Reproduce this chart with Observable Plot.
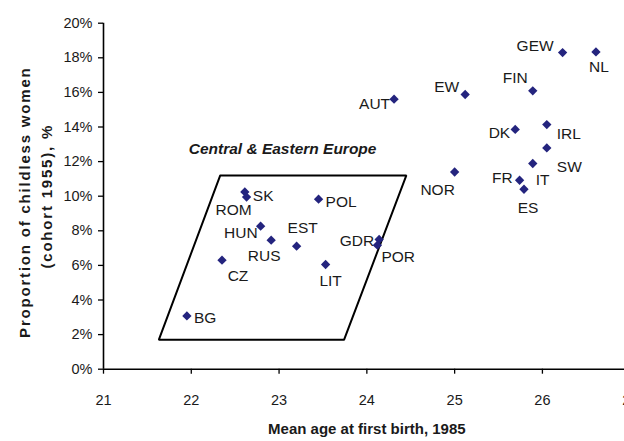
<!DOCTYPE html>
<html><head><meta charset="utf-8">
<script src="https://cdn.jsdelivr.net/npm/d3@7"></script>
<script src="https://cdn.jsdelivr.net/npm/@observablehq/plot@0.6"></script>
<style>html,body{margin:0;padding:0;overflow:hidden;background:#fff} svg{max-width:none !important;}</style>
</head><body><div id="chart"></div>
<script>
// Data
const countries = ["GEW","NL","FIN","EW","AUT","DK","IRL","SW","IT","FR","ES","NOR","POL","SK","ROM","HUN","RUS","EST","CZ","BG","LIT","GDR","POR"];
const meanAge   = [26.23,26.61,25.89,25.12,24.31,25.69,26.05,26.05,25.89,25.74,25.79,25.00,23.45,22.61,22.63,22.79,22.91,23.20,22.35,21.95,23.53,24.14,24.12];
const childless = [18.30,18.34,16.09,15.88,15.61,13.86,14.14,12.79,11.89,10.92,10.40,11.40,9.83,10.25,9.95,8.27,7.46,7.11,6.30,3.08,6.05,7.50,7.17];
const xTicks = [21,22,23,24,25,26,27];
const yTicks = [0,2,4,6,8,10,12,14,16,18,20];
// Central & Eastern Europe outline (parallelogram corners)
const polyAge = [22.33,24.45,23.74,21.63,22.33];
const polyPct = [11.2,11.2,1.7,1.7,11.2];
const groupLabel = "Central & Eastern Europe";
const groupAge = 23.04, groupPct = 12.7;
const xTitle = "Mean age at first birth, 1985";
const yTitle1 = "Proportion of childless women";
const yTitle2 = "(cohort 1955), %";

// Label layout (anchor, dx, dy in px)
const labelLayout = {
  GEW:["end",-9,-7], NL:["middle",3,15], FIN:["end",-5,-13], EW:["end",-6,-7],
  AUT:["end",-4,5], DK:["end",-5,4], IRL:["start",10,9], SW:["start",10,19],
  IT:["start",3,17], FR:["end",-7,-2], ES:["middle",4,19], NOR:["middle",-17,18],
  POL:["start",7,3], SK:["start",8,4], ROM:["middle",-13,13], HUN:["end",-3,7],
  RUS:["middle",-7,16], EST:["middle",6,-18], CZ:["middle",16,16], BG:["start",7,2],
  LIT:["middle",5,16], GDR:["end",-5,2], POR:["start",4,12]
};

const rows = countries.map((c,i)=>({country:c, age:meanAge[i], pct:childless[i]}));
const poly = polyAge.map((a,i)=>({age:a, pct:polyPct[i]}));
const font = "Liberation Sans, Arial, sans-serif";
const dotColor = "#24247e";

const labelMarks = rows.map(r => {
  const [anchor, dx, dy] = labelLayout[r.country];
  return Plot.text([r], {x:"age", y:"pct", text:"country", textAnchor:anchor, dx, dy,
    fontSize:15.5, fill:"#1a1a1a"});
});

const chart = Plot.plot({
  width: 640, height: 441,
  marginLeft: 103, marginRight: 10.3, marginTop: 22.7, marginBottom: 72.3,
  style: {fontFamily: font, color: "#111", background: "#fff", overflow: "visible", maxWidth: "none"},
  x: {domain: [21, 27]},
  y: {domain: [0, 20]},
  marks: [
    Plot.axisX({ticks: xTicks, tickFormat: d => String(d), tickSize: 5, tickPadding: 20.5, fontSize: 14.5, label: null, stroke: "#000", strokeWidth: 1.3, fill: "#1a1a1a"}),
    Plot.axisY({ticks: yTicks, tickSize: 5, tickPadding: 6, fontSize: 14.5, label: null, tickFormat: d => d + "%", stroke: "#000", strokeWidth: 1.3, fill: "#1a1a1a"}),
    Plot.ruleX([21], {stroke: "#000", strokeWidth: 1.6}),
    Plot.ruleY([0], {stroke: "#000", strokeWidth: 1.6}),
    Plot.line(poly, {x: "age", y: "pct", stroke: "#000", strokeWidth: 2, strokeLinejoin: "miter"}),
    Plot.text([groupLabel], {x: () => groupAge, y: () => groupPct, text: d => d, fontSize: 15.5, fontWeight: "bold", fontStyle: "italic", fill: "#1a1a1a"}),
    Plot.dot(rows, {x: "age", y: "pct", symbol: "diamond2", r: 4.2, fill: dotColor, stroke: "none"}),
    ...labelMarks,
    Plot.text([xTitle], {frameAnchor: "bottom", textAnchor: "middle", dy: 65, fontSize: 15, fontWeight: "bold", fill: "#1a1a1a"}),
    Plot.text([yTitle1], {frameAnchor: "left", textAnchor: "middle", dx: -78, dy: 6, rotate: -90, fontSize: 15, fontWeight: "bold", fill: "#1a1a1a", className: "ytitle"}),
    Plot.text([yTitle2], {frameAnchor: "left", textAnchor: "middle", dx: -56, dy: 0, rotate: -90, fontSize: 15, fontWeight: "bold", fill: "#1a1a1a", className: "ytitle"})
  ]
});
d3.select(chart).selectAll(".ytitle text").attr("letter-spacing", "1.8px");
document.getElementById("chart").appendChild(chart);
</script></body></html>
